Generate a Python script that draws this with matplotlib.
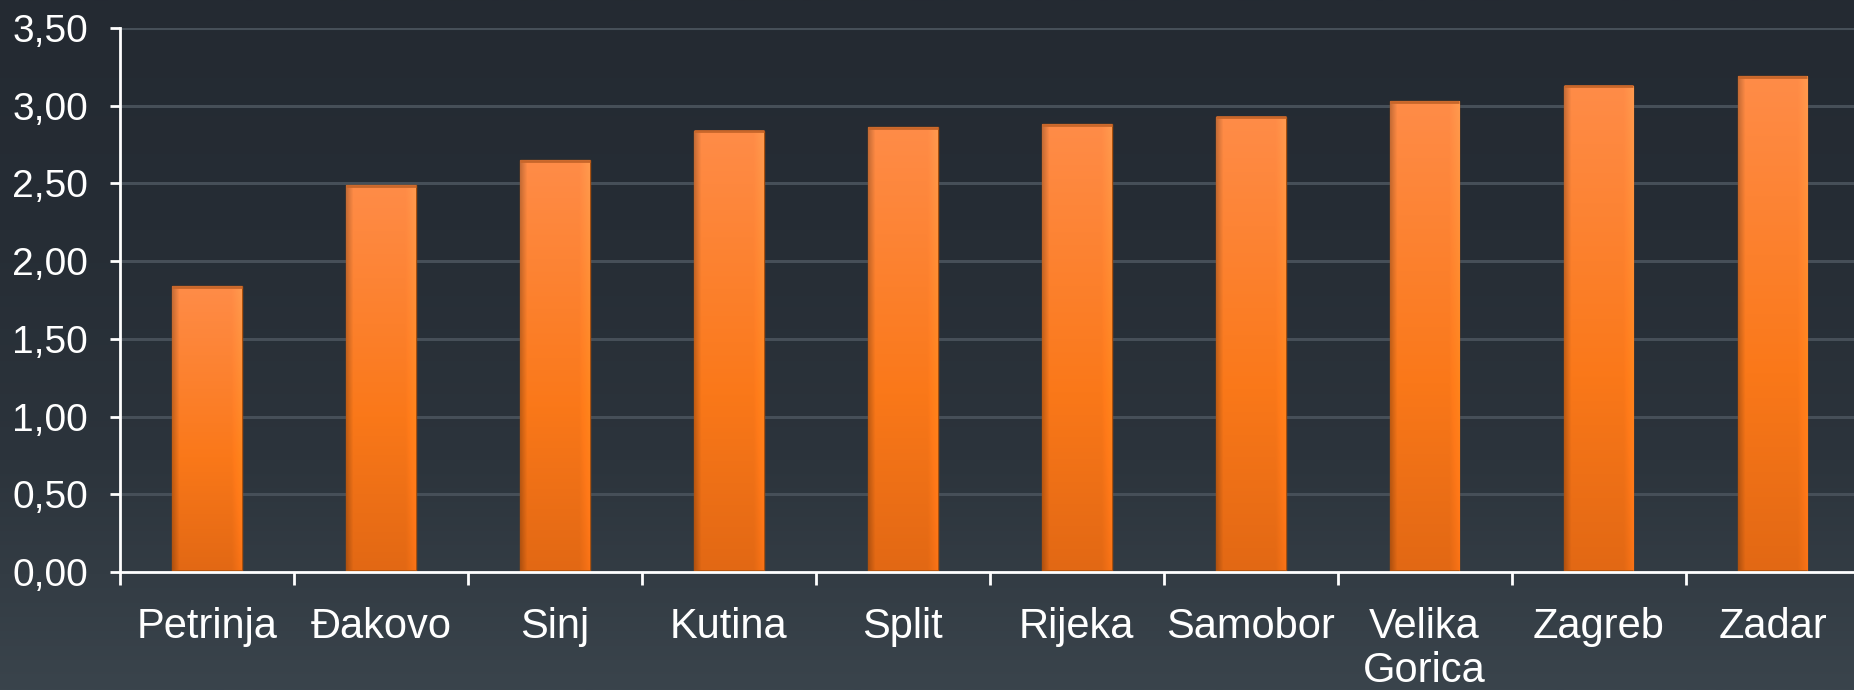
import numpy as np
import matplotlib
matplotlib.use("Agg")
import matplotlib.pyplot as plt
from matplotlib.colors import LinearSegmentedColormap

categories = ["Petrinja", "Đakovo", "Sinj", "Kutina", "Split", "Rijeka",
              "Samobor", "Velika\nGorica", "Zagreb", "Zadar"]
values = [1.84, 2.49, 2.65, 2.84, 2.86, 2.88, 2.93, 3.03, 3.13, 3.19]
yticks = [0.0, 0.5, 1.0, 1.5, 2.0, 2.5, 3.0, 3.5]
ytick_labels = ["0,00", "0,50", "1,00", "1,50", "2,00", "2,50", "3,00", "3,50"]

plt.rcParams['font.family'] = ['Liberation Sans', 'DejaVu Sans']

W, H, DPI = 1854, 690, 100
fig = plt.figure(figsize=(W / DPI, H / DPI), dpi=DPI)

# background gradient
bg = fig.add_axes([0, 0, 1, 1], zorder=-10)
bg_cmap = LinearSegmentedColormap.from_list("bg", ["#242a32", "#262d35", "#2c343c", "#3a444c"])
grad = np.linspace(0, 1, 256).reshape(-1, 1)
bg.imshow(grad, aspect="auto", cmap=bg_cmap, extent=[0, 1, 0, 1], origin="upper")
bg.set_axis_off()

ax = fig.add_axes([120 / W, 1 - 572 / H, (W - 120) / W + 0.003, (572 - 28) / H])
ax.patch.set_alpha(0)

x = np.arange(len(categories))
bw = 0.4
bars = ax.bar(x, values, width=bw, color="#f57a20", edgecolor="#a8500f",
              linewidth=1.0, zorder=3)

# gradient fill for bars (vertical light->dark, horizontal darker left, lighter right)
ny, nx = 200, 60
vy = np.linspace(0, 1, ny).reshape(-1, 1)  # 0 top, 1 bottom
hx = np.linspace(0, 1, nx).reshape(1, -1)
top_col = np.array([255, 140, 72]) / 255
mid_col = np.array([250, 120, 25]) / 255
bot_col = np.array([226, 104, 20]) / 255
for b, v in zip(bars, values):
    t = vy
    base = np.where(t < 0.6, top_col + (mid_col - top_col) * (t / 0.6),
                    mid_col + (bot_col - mid_col) * ((t - 0.6) / 0.4))
    base = np.broadcast_to(base.reshape(ny, 1, 3), (ny, nx, 3)).copy()
    shade = np.ones((1, nx))
    shade = np.where(hx < 0.1, 0.78 + 0.22 * hx / 0.1, shade)
    shade = np.where(hx > 0.86, 1.0 + 0.10 * (hx - 0.86) / 0.14, shade)
    img = np.clip(base * shade.reshape(1, nx, 1), 0, 1)
    bx0 = b.get_x()
    im = ax.imshow(img, extent=[bx0, bx0 + bw, 0, v], aspect="auto",
                   origin="upper", zorder=4, interpolation="bilinear")
    im.set_clip_path(b)
    ax.plot([bx0, bx0 + bw], [v - 0.005, v - 0.005], color="#c8662a", lw=2, zorder=5,
            solid_capstyle="butt")
    ax.plot([bx0, bx0 + bw], [0.006, 0.006], color="#b4560f", lw=2, zorder=5,
            solid_capstyle="butt")

ax.set_xlim(-0.5, len(categories) - 0.5)
ax.set_ylim(0, 3.5)
ax.set_yticks(yticks)
ax.set_yticklabels(ytick_labels)
ax.set_xticks(x)
ax.set_xticklabels(categories, linespacing=1.13)
ax.set_xticks(np.arange(len(categories) + 1) - 0.5, minor=True)

ax.tick_params(axis="x", which="major", length=0, pad=25, labelsize=30, labelcolor="white")
ax.tick_params(axis="x", which="minor", length=9, width=2, color="white", direction="out")
ax.tick_params(axis="y", length=7, width=2, color="white", pad=16, labelsize=28,
               labelcolor="white")

ax.yaxis.grid(True, color="#464f58", linewidth=2.2, zorder=0)
ax.set_axisbelow(True)
for s in ["top", "right"]:
    ax.spines[s].set_visible(False)
for s in ["left", "bottom"]:
    ax.spines[s].set_color("white")
    ax.spines[s].set_linewidth(2)
    ax.spines[s].set_zorder(6)

fig.savefig("out.png", dpi=DPI)
